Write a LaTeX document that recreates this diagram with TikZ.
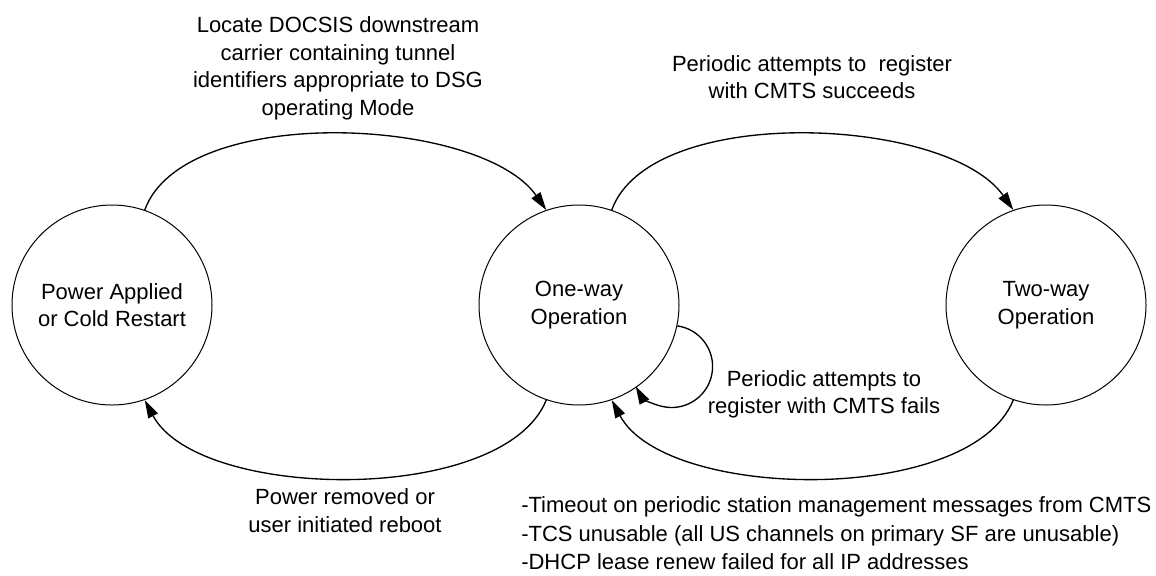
\documentclass[tikz,border=0pt]{standalone}
\usepackage{fontspec}
\setmainfont{Liberation Sans}
\usetikzlibrary{arrows.meta}
\begin{document}
\begin{tikzpicture}[x=0.75pt,y=0.75pt,
  every node/.style={font=\fontsize{16.5pt}{20.6pt}\selectfont},
  state/.style={circle,draw,line width=0.75pt,minimum size=150pt,inner sep=0pt,align=center},
  lbl/.style={align=center,inner sep=0pt},
  edge/.style={line width=1pt,-{Triangle[length=13.5pt,width=8pt]}}]
\useasboundingbox (0,0) rectangle (1156,-575);
\node[state] (pw) at (112,-305) {Power Applied\\or Cold Restart};
\node[state] (one) at (579,-305) {One-way\\Operation};
\node[state] (two) at (1046,-305) {Two-way\\Operation};
\draw[edge] (pw.71) to[out=70,in=125,looseness=0.73] (one.109);
\draw[edge] (one.71) to[out=70,in=125,looseness=0.73] (two.109);
\draw[edge] (one.-109) to[out=-112,in=-62,looseness=0.73] (pw.-71);
\draw[edge] (two.-109) to[out=-112,in=-62,looseness=0.73] (one.-71);
\draw[edge] (one.-12) arc[start angle=82,end angle=-151,radius=30.75pt];
\node[lbl] (l1) at (338,-68.3) {Locate DOCSIS downstream\\carrier containing tunnel\\identifiers appropriate to DSG\\operating Mode};
\node[lbl] (l2) at (812,-77) {Periodic attempts to~ register\\with CMTS succeeds};
\node[lbl] (l3) at (824,-394.3) {Periodic attempts to\\register with CMTS fails};
\node[lbl] (l4) at (345,-510.7) {Power removed or\\user initiated reboot};
\node[lbl,align=left,anchor=west,font=\fontsize{16.5pt}{21.4pt}\selectfont] (l5) at (521,-533.5) {-Timeout on periodic station management messages from CMTS\\-TCS unusable (all US channels on primary SF are unusable)\\-DHCP lease renew failed for all IP addresses};
\end{tikzpicture}
\end{document}
